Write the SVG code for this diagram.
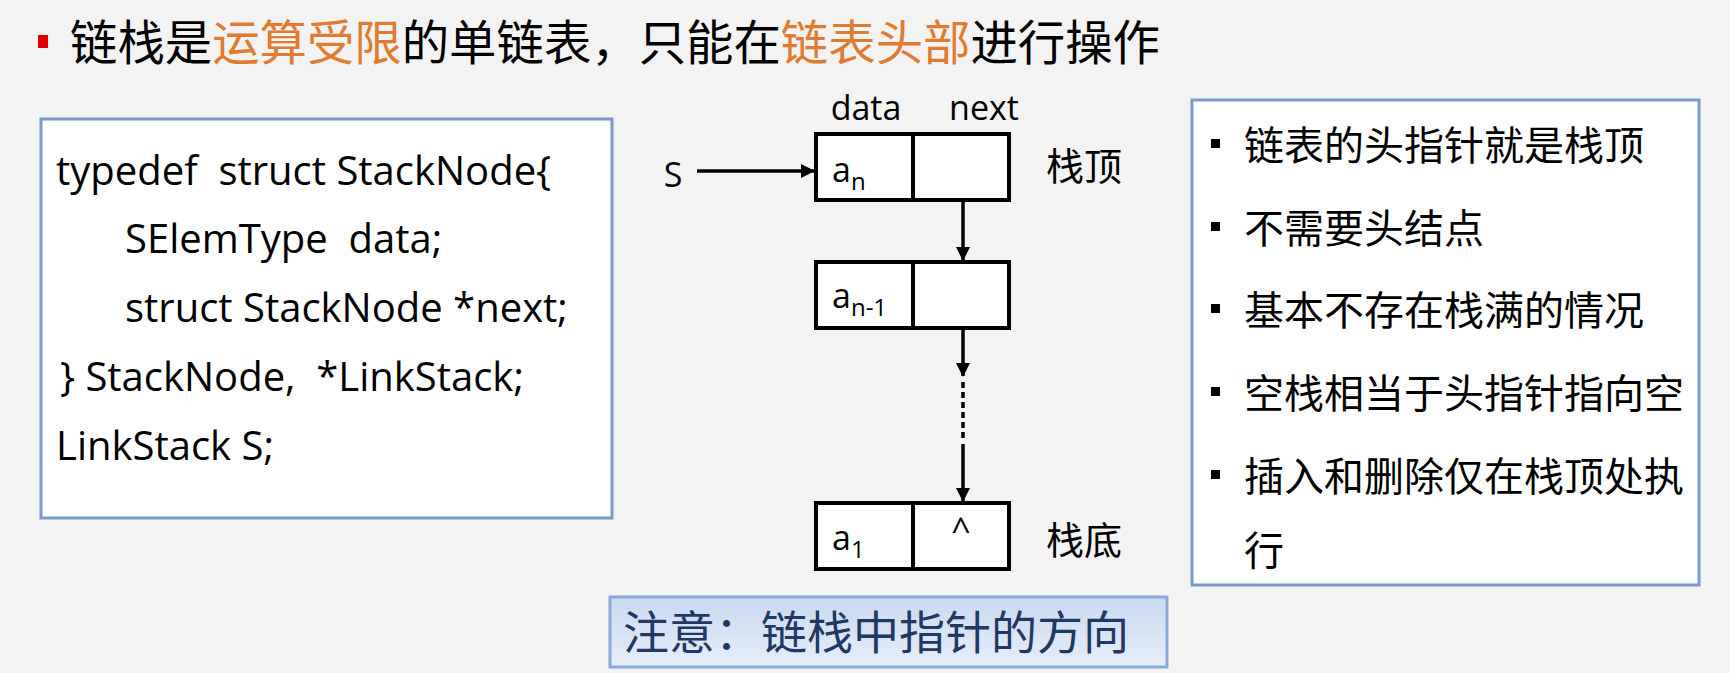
<svg xmlns="http://www.w3.org/2000/svg" width="1730" height="673" viewBox="0 0 1730 673">
<style>
.c{font-family:"Open Sans","Noto Sans CJK SC",sans-serif;fill:#000;font-size:34px;white-space:pre}
.k{font-family:"Open Sans",sans-serif;fill:#000;font-size:40px;white-space:pre}
.z{font-family:"Noto Sans CJK SC",sans-serif;fill:#000;font-size:38px}
.n{font-family:"Noto Sans CJK SC",sans-serif;fill:#000;font-size:40px}
.box{fill:#fff;stroke:#000;stroke-width:4}
.ln{stroke:#000;stroke-width:3.5;fill:none}
</style>
<defs>
<marker id="ah" markerWidth="14" markerHeight="14" refX="13" refY="7" orient="auto" markerUnits="userSpaceOnUse" viewBox="0 0 14 14"><path d="M0,0 L14,7 L0,14 z" fill="#000"/></marker>
<linearGradient id="g" x1="0" y1="0" x2="0" y2="1"><stop offset="0" stop-color="#c9d9f0"/><stop offset="1" stop-color="#e6eefa"/></linearGradient>
</defs>
<rect width="1730" height="673" fill="#f3f3f3"/>
<g id="title">
<rect x="38" y="35" width="10" height="13" fill="#e00000"/>
<text x="70" y="60" font-size="48" font-family="Noto Sans CJK SC,sans-serif" textLength="1090" lengthAdjust="spacingAndGlyphs">链栈是<tspan fill="#e07b30">运算受限</tspan>的单链表，只能在<tspan fill="#e07b30">链表头部</tspan>进行操作</text>
</g>
<g id="code">
<rect x="41" y="119" width="571" height="399" fill="#fff" stroke="#7a9cc8" stroke-width="3"/>
<text class="k" x="56" y="185" xml:space="preserve">typedef  struct StackNode{</text>
<text class="k" x="125" y="253" xml:space="preserve">SElemType  data;</text>
<text class="k" x="125" y="322" xml:space="preserve">struct StackNode *next;</text>
<text class="k" x="60" y="391" xml:space="preserve">} StackNode,  *LinkStack;</text>
<text class="k" x="56" y="460" xml:space="preserve">LinkStack S;</text>
</g>
<g id="labels">
<text class="c" x="866" y="120" text-anchor="middle" font-size="37">data</text>
<text class="c" x="984" y="120" text-anchor="middle" font-size="37">next</text>
<text class="c" x="673" y="187" text-anchor="middle" font-size="38">S</text>
<text class="z" x="1046" y="180">栈顶</text>
<text class="z" x="1046" y="554">栈底</text>
</g>
<g id="node-an">
<rect class="box" x="816" y="134" width="193" height="66"/><line x1="913" y1="134" x2="913" y2="200" stroke="#000" stroke-width="4"/>
<text class="c" x="832" y="182">a<tspan font-size="24" dy="8">n</tspan></text>
</g>
<g id="node-an1">
<rect class="box" x="816" y="262" width="193" height="66"/><line x1="913" y1="262" x2="913" y2="328" stroke="#000" stroke-width="4"/>
<text class="c" x="832" y="308">a<tspan font-size="24" dy="8">n-1</tspan></text>
</g>
<g id="node-a1">
<rect class="box" x="816" y="503" width="193" height="66"/><line x1="913" y1="503" x2="913" y2="569" stroke="#000" stroke-width="4"/>
<text class="c" x="832" y="550">a<tspan font-size="24" dy="8">1</tspan></text>
<text class="c" x="961" y="542" text-anchor="middle">^</text>
</g>
<g id="connectors">
<line class="ln" x1="697" y1="171" x2="814" y2="171" marker-end="url(#ah)"/>
<line class="ln" x1="963" y1="200" x2="963" y2="260" marker-end="url(#ah)"/>
<line class="ln" x1="963" y1="328" x2="963" y2="376" marker-end="url(#ah)"/>
<line class="ln" x1="963" y1="382" x2="963" y2="440" stroke-dasharray="6,4" stroke-width="4"/>
<line class="ln" x1="963" y1="444" x2="963" y2="501" marker-end="url(#ah)"/>
</g>
<g id="notes">
<rect x="1192" y="100" width="507" height="485" fill="#fff" stroke="#7a9cc8" stroke-width="3"/>
<g fill="#000"><rect x="1211" y="139" width="9" height="9"/><rect x="1211" y="222" width="9" height="9"/><rect x="1211" y="304" width="9" height="9"/><rect x="1211" y="387" width="9" height="9"/><rect x="1211" y="470" width="9" height="9"/></g>
<text class="n" x="1244" y="160">链表的头指针就是栈顶</text>
<text class="n" x="1244" y="243">不需要头结点</text>
<text class="n" x="1244" y="325">基本不存在栈满的情况</text>
<text class="n" x="1244" y="408">空栈相当于头指针指向空</text>
<text class="n" x="1244" y="491">插入和删除仅在栈顶处执</text>
<text class="n" x="1244" y="565">行</text>
</g>
<g id="note">
<rect x="610" y="597" width="557" height="70" fill="url(#g)" stroke="#8aa8d8" stroke-width="3"/>
<text x="623" y="649" font-size="46" font-family="Noto Sans CJK SC,sans-serif" fill="#1f3864">注意：链栈中指针的方向</text>
</g>
</svg>
